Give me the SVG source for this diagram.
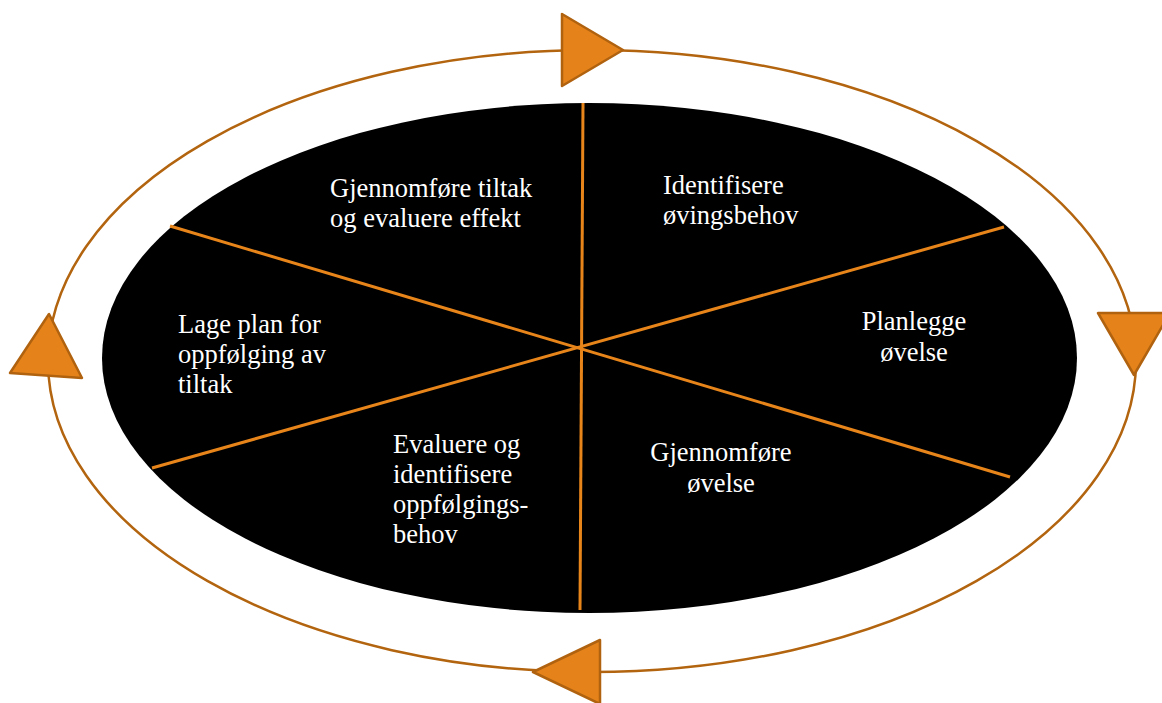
<svg xmlns="http://www.w3.org/2000/svg" width="1162" height="703" viewBox="0 0 1162 703">
  <style>
    .ring { fill: none; stroke: #B3640E; stroke-width: 2.5; }
    .arrow { fill: #E5831A; stroke: #B0620F; stroke-width: 2.5; stroke-linejoin: round; }
    .divider { stroke: #E8851A; stroke-width: 3; fill: none; }
    .label { font-family: "Liberation Serif", "Times New Roman", "DejaVu Serif", serif; font-size: 26.5px; fill: #FFFFFF; }
    .mid { text-anchor: middle; }
  </style>
  <rect width="1162" height="703" fill="#FFFFFF"/>

  <!-- cycle ring with direction arrows -->
  <g id="connectors">
    <ellipse class="ring" cx="592" cy="361" rx="544" ry="311"/>
    <polygon class="arrow" points="562,14 562,86 623,50"/>
    <polygon class="arrow" points="1098,313 1170,313 1134,375"/>
    <polygon class="arrow" points="600,640 600,704 533,672"/>
    <polygon class="arrow" points="49,314 10,373 82,378"/>
  </g>

  <!-- central disc split into six sectors -->
  <g id="disc">
    <ellipse cx="589.5" cy="358" rx="487.5" ry="255" fill="#000000"/>
    <line class="divider" x1="583" y1="103" x2="580" y2="610"/>
    <line class="divider" x1="170" y1="226" x2="1010" y2="477"/>
    <line class="divider" x1="152" y1="468" x2="1004" y2="227"/>
  </g>

  <g id="step-identifisere">
    <text class="label" x="663" y="194">Identifisere</text>
    <text class="label" x="663" y="224">øvingsbehov</text>
  </g>

  <g id="step-planlegge">
    <text class="label mid" x="914" y="330">Planlegge</text>
    <text class="label mid" x="914" y="361">øvelse</text>
  </g>

  <g id="step-gjennomfore">
    <text class="label mid" x="721" y="461">Gjennomføre</text>
    <text class="label mid" x="721" y="492">øvelse</text>
  </g>

  <g id="step-evaluere">
    <text class="label" x="393" y="453">Evaluere og</text>
    <text class="label" x="393" y="483">identifisere</text>
    <text class="label" x="393" y="513">oppfølgings-</text>
    <text class="label" x="393" y="543">behov</text>
  </g>

  <g id="step-lage-plan">
    <text class="label" x="178" y="333">Lage plan for</text>
    <text class="label" x="178" y="363">oppfølging av</text>
    <text class="label" x="178" y="393">tiltak</text>
  </g>

  <g id="step-tiltak">
    <text class="label" x="330" y="197">Gjennomføre tiltak</text>
    <text class="label" x="330" y="227">og evaluere effekt</text>
  </g>
</svg>
